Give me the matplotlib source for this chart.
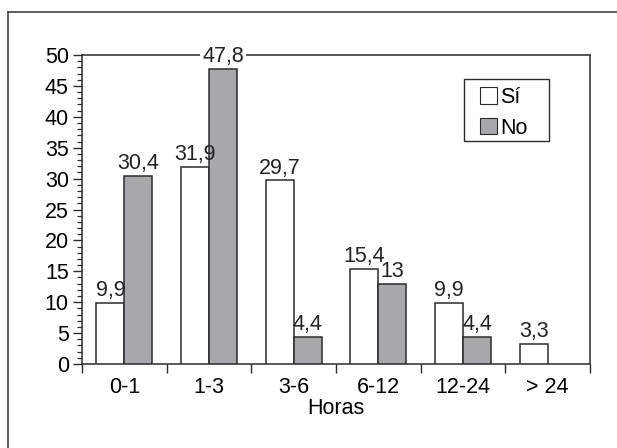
import numpy as np
import matplotlib.pyplot as plt
from matplotlib.lines import Line2D
from matplotlib.patches import Patch, Rectangle
from matplotlib.ticker import MultipleLocator, FixedLocator

# =========================================================
# DATA
categorias = ['0-1', '1-3', '3-6', '6-12', '12-24', '> 24']
si_vals = [9.9, 31.9, 29.7, 15.4, 9.9, 3.3]
no_vals = [30.4, 47.8, 4.4, 13, 4.4, None]

FS = 15.5
plt.rcParams['font.family'] = ['Liberation Sans', 'DejaVu Sans']
plt.rcParams['font.size'] = FS

edge = '#2b2b2b'
gris = '#a7a8ab'

fig = plt.figure(figsize=(6.17, 4.48), dpi=100)
ax = fig.add_axes([0.1329, 0.1875, 0.8233, 0.6897])

x = np.arange(len(categorias))
w = 0.33
off = 0.3

def fmt(v):
    s = f'{v:g}'
    return s.replace('.', ',')

for i, v in enumerate(si_vals):
    ax.bar(x[i] - w/2, v, width=w, color='white', edgecolor=edge, linewidth=1.1, zorder=3)
    ax.text(x[i] - w/2, v + off, fmt(v), ha='center', va='bottom', fontsize=FS,
            color='#222222', zorder=4)

for i, v in enumerate(no_vals):
    if v is None:
        continue
    ax.bar(x[i] + w/2, v, width=w, color=gris, edgecolor=edge, linewidth=1.1, zorder=3)
    t = ax.text(x[i] + w/2, v + off, fmt(v), ha='center', va='bottom', fontsize=FS,
                color='#222222', zorder=4, clip_on=False)
    if v > 45:
        # white box behind the label cuts the top spine, kept under the bar
        t.set_bbox(dict(facecolor='white', edgecolor='none', pad=1.5))
        t.set_zorder(2.7)

ax.set_xlim(-0.5, len(categorias) - 0.5)
ax.set_ylim(0, 50)

# y axis ticks
ax.yaxis.set_major_locator(MultipleLocator(5))
ax.yaxis.set_minor_locator(MultipleLocator(1))
ax.tick_params(axis='y', which='major', direction='out', length=6.5, width=1, color=edge, pad=3)
ax.tick_params(axis='y', which='minor', direction='out', length=3.5, width=0.9, color=edge)

# x axis: ticks at group limits, labels at centers
ax.xaxis.set_major_locator(FixedLocator(np.arange(len(categorias) + 1) - 0.5))
ax.xaxis.set_major_formatter(plt.NullFormatter())
ax.xaxis.set_minor_locator(FixedLocator(x))
ax.set_xticklabels(categorias, minor=True)
ax.tick_params(axis='x', which='major', direction='out', length=6.5, width=1, color=edge)
ax.tick_params(axis='x', which='minor', length=0, pad=9)
ax.set_xlabel('Horas', fontsize=FS, labelpad=0)

for sp in ax.spines.values():
    sp.set_linewidth(1.1)
    sp.set_color(edge)

# legend: entries without frame, box drawn separately for wider side padding
handles = [Patch(facecolor='white', edgecolor=edge, linewidth=0.8, label='Sí'),
           Patch(facecolor=gris, edgecolor=edge, linewidth=0.8, label='No')]
leg = ax.legend(handles=handles, loc='upper left', bbox_to_anchor=(0.783, 0.897),
                frameon=False, handlelength=0.8, handleheight=0.8,
                handletextpad=0.15, borderpad=0, labelspacing=0.45, fontsize=FS,
                borderaxespad=0)
ax.add_patch(Rectangle((0.752, 0.722), 0.167, 0.200, transform=ax.transAxes,
                       facecolor='none', edgecolor=edge, linewidth=1.0, zorder=6))

# outer frame (left and top only)
fig.add_artist(Line2D([8/617, 8/617], [0, 1 - 12/448], transform=fig.transFigure,
                      color='#444444', linewidth=1.2))
fig.add_artist(Line2D([8/617, 1], [1 - 12/448, 1 - 12/448], transform=fig.transFigure,
                      color='#444444', linewidth=1.2))

fig.savefig('out.png', dpi=100)
